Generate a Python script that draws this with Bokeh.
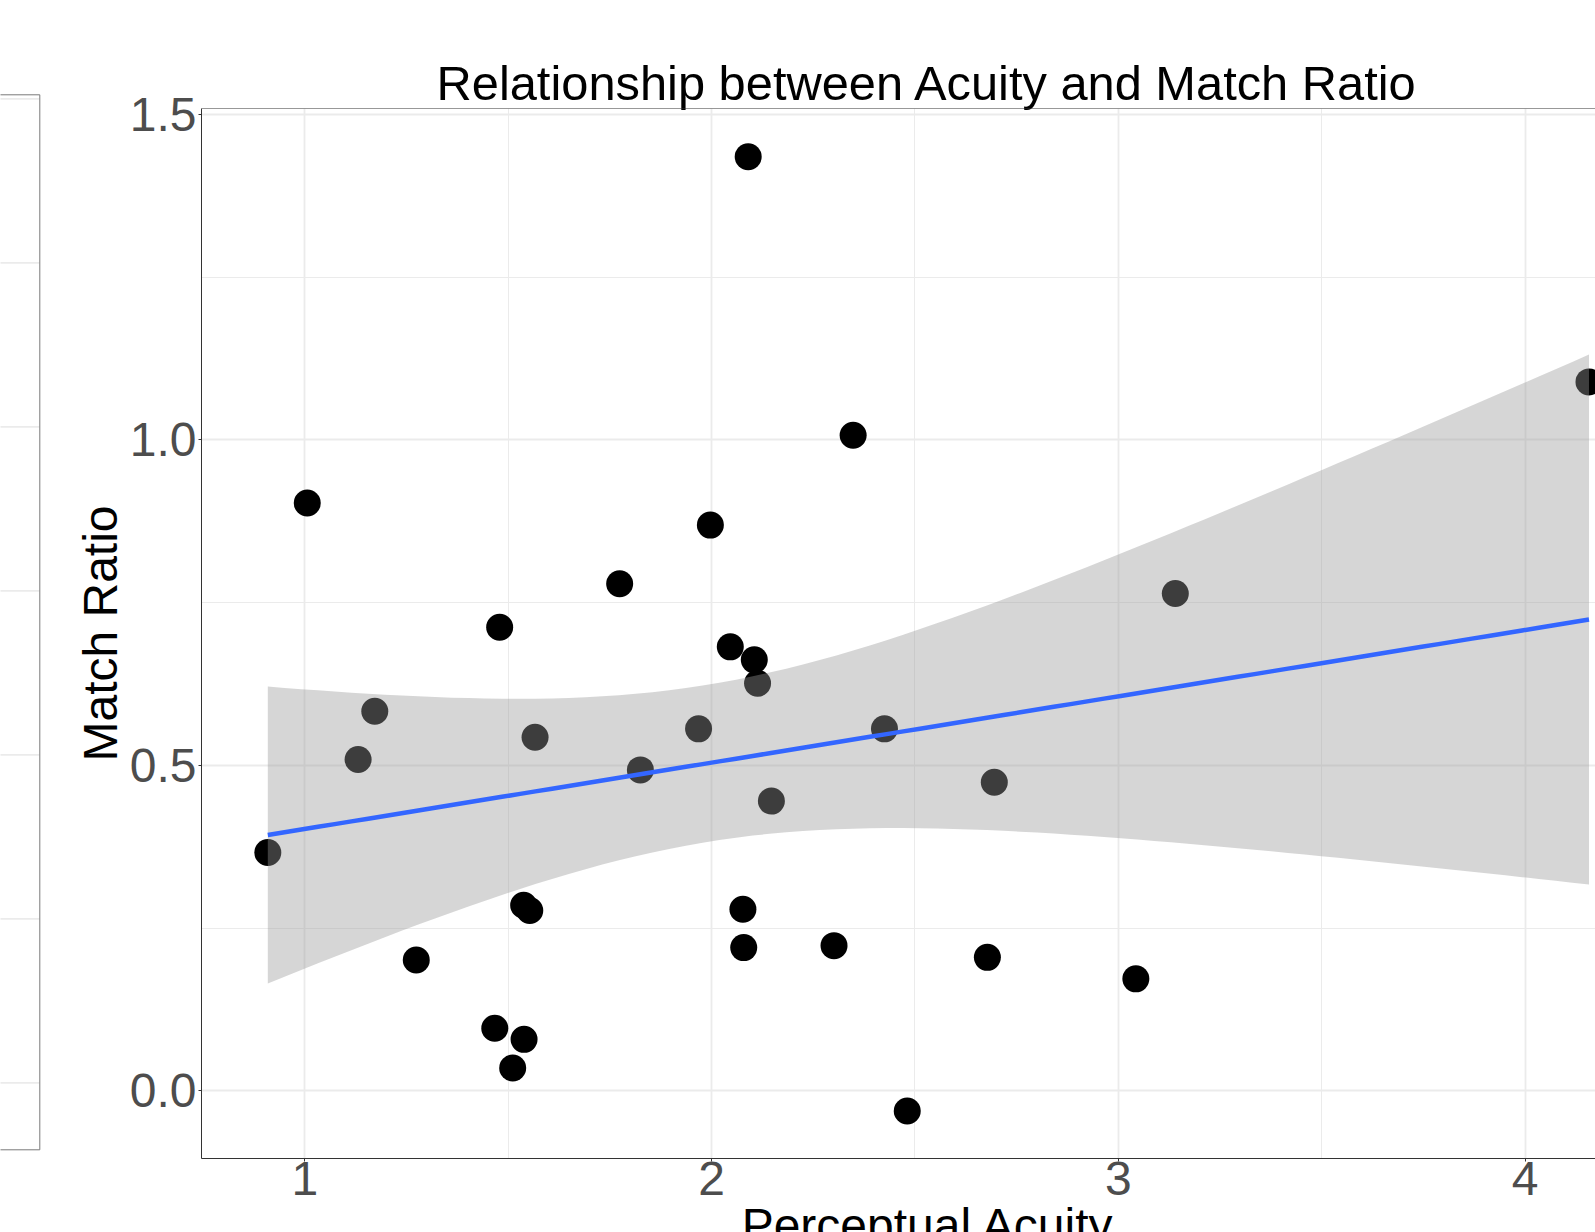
import numpy as np
from bokeh.plotting import figure
from bokeh.layouts import row
from bokeh.models import (Range1d, FixedTicker, PrintfTickFormatter, Title, Span, Label)
from bokeh.embed import file_html
from bokeh.resources import INLINE

# Perceptual acuity vs. match ratio, one value per participant
acuity = [0.909, 1.006, 1.131, 1.172, 1.274, 1.467, 1.479, 1.511, 1.538, 1.539,
          1.553, 1.566, 1.774, 1.825, 1.968, 1.997, 2.046, 2.077, 2.079, 2.090,
          2.105, 2.113, 2.147, 2.301, 2.348, 2.425, 2.481, 2.678, 2.695, 3.043,
          3.140, 4.157]
match_ratio = [0.366, 0.903, 0.509, 0.583, 0.201, 0.096, 0.712, 0.035, 0.285, 0.079,
               0.277, 0.543, 0.779, 0.493, 0.556, 0.869, 0.682, 0.279, 0.220, 1.435,
               0.662, 0.626, 0.445, 0.223, 1.007, 0.556, -0.031, 0.205, 0.474, 0.172,
               0.764, 1.089]

x_ticks = [1, 2, 3, 4]
x_minor = [0.5, 1.5, 2.5, 3.5]
y_ticks = [0.0, 0.5, 1.0, 1.5]
y_minor = [0.25, 0.75, 1.25]

FONT = "Liberation Sans"

# ---- linear fit with 95% confidence band (as geom_smooth(method="lm")) ----
x = np.asarray(acuity)
y = np.asarray(match_ratio)
n = len(x)
slope, intercept = np.polyfit(x, y, 1)
resid = y - (intercept + slope * x)
s = np.sqrt(np.sum(resid ** 2) / (n - 2))
xbar = x.mean()
sxx = np.sum((x - xbar) ** 2)
T975 = 2.0423  # Student t 97.5% quantile, 30 degrees of freedom
xs = np.linspace(x.min(), x.max(), 80)
fit = intercept + slope * xs
se = s * np.sqrt(1.0 / n + (xs - xbar) ** 2 / sxx)
lower = fit - T975 * se
upper = fit + T975 * se

# ---- neighbouring panel, only its right edge is in view ----
side = figure(width=41, height=1232, x_range=Range1d(0, 41), y_range=Range1d(1232, 0),
              output_backend="svg", toolbar_location=None,
              min_border_left=0, min_border_right=0, min_border_top=0, min_border_bottom=0,
              outline_line_color=None)
side.frame_align = False
side.axis.visible = False
side.grid.visible = False
side_grid = [98.3, 262.3, 426.3, 590.3, 754.3, 918.3, 1082.3]
side.segment(x0=[-10] * len(side_grid), x1=[39] * len(side_grid), y0=side_grid, y1=side_grid,
             line_color="#ebebeb", line_width=1.8)
side.quad(left=[-10], right=[39.3], top=[94.3], bottom=[1149.3], fill_alpha=0,
          line_color="#7a7a7a", line_width=1)

# ---- main scatter panel ----
p = figure(width=1554, height=1232,
           x_range=Range1d(0.746, 4.173), y_range=Range1d(-0.104, 1.509),
           output_backend="svg", toolbar_location=None,
           min_border_left=160, min_border_right=0, min_border_top=108, min_border_bottom=74,
           outline_line_color=None, background_fill_color="white")
p.frame_align = False

p.scatter(acuity, match_ratio, size=27, fill_color="black", line_color=None)
p.varea(x=xs, y1=lower, y2=upper, fill_color="#999999", fill_alpha=0.4)
p.line(xs, fit, line_color="#3366FF", line_width=4.5)

p.xaxis.ticker = FixedTicker(ticks=x_ticks, minor_ticks=x_minor)
p.yaxis.ticker = FixedTicker(ticks=y_ticks, minor_ticks=y_minor)
p.xaxis.formatter = PrintfTickFormatter(format="%d")
p.yaxis.formatter = PrintfTickFormatter(format="%.1f")

for ax in (p.xaxis, p.yaxis):
    ax.axis_line_color = "#333333"
    ax.axis_line_width = 1
    ax.major_tick_line_color = "#333333"
    ax.major_tick_out = 3
    ax.major_tick_in = 0
    ax.minor_tick_out = 0
    ax.minor_tick_in = 0
    ax.major_label_text_font = FONT
    ax.major_label_text_font_size = "48px"
    ax.major_label_text_color = "#4d4d4d"

p.xaxis.major_label_standoff = 0
p.yaxis.major_label_standoff = 2
p.yaxis.axis_label = "Match Ratio"
p.yaxis.axis_label_text_font = FONT
p.yaxis.axis_label_text_font_size = "48px"
p.yaxis.axis_label_text_font_style = "normal"
p.yaxis.axis_label_text_color = "black"
p.yaxis.axis_label_standoff = 0

p.xgrid.grid_line_color = "#ebebeb"
p.ygrid.grid_line_color = "#ebebeb"
p.xgrid.grid_line_width = 1.8
p.ygrid.grid_line_width = 1.8
p.xgrid.minor_grid_line_color = "#ebebeb"
p.ygrid.minor_grid_line_color = "#ebebeb"
p.xgrid.minor_grid_line_width = 1.0
p.ygrid.minor_grid_line_width = 1.0

p.add_layout(Span(location=1.509, dimension="width", line_color="#333333", line_width=1))

# The title is centred on the full panel, which runs on past the right edge of the page
p.add_layout(Title(text="Relationship between Acuity and Match Ratio", align="left", offset=235,
                   text_font=FONT, text_font_size="48.8px", text_font_style="normal",
                   text_color="black", standoff=-3), "above")

# x-axis title, centred on the full panel and running off the bottom of the page;
# kept in a side panel so it is not clipped to the plotting frame
mid_x = (min(acuity) + max(acuity)) / 2
p.add_layout(Label(x=mid_x, y=-0.2069, text="Perceptual Acuity",
                   text_align="center", text_baseline="alphabetic", text_font=FONT,
                   text_font_size="48px", text_color="black"), "above")

layout = row(side, p, spacing=0)
open("out.html", "w").write(file_html(layout, INLINE))
